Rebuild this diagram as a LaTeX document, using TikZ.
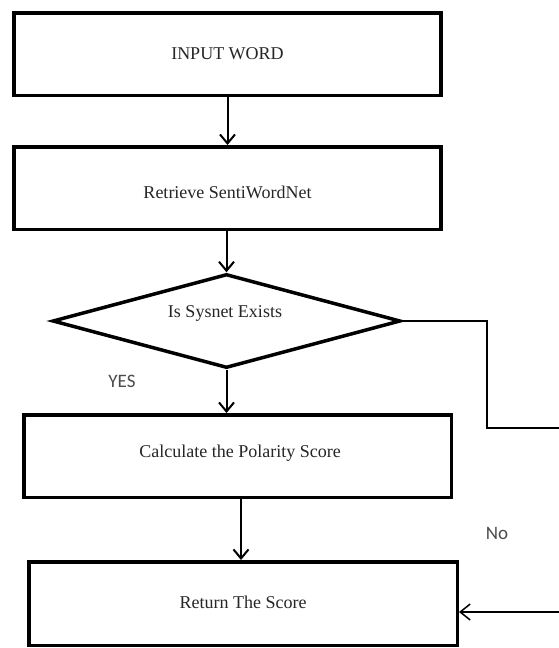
\documentclass[tikz,border=0pt]{standalone}
\usepackage{fontspec}
\setmainfont{Liberation Serif}
\newfontfamily\lblfont{Carlito}
\usetikzlibrary{arrows.meta,shapes.geometric}
\begin{document}
\begin{tikzpicture}[x=1pt,y=-1pt,
  stepbox/.style={draw, line width=3.5pt, minimum height=82.5pt, inner sep=0pt,
    font=\fontsize{18}{20}\selectfont},
  decision/.style={draw, diamond, line width=3.5pt, minimum width=348pt,
    minimum height=94pt, inner sep=0pt},
  boxtext/.style={font=\fontsize{18}{20}\selectfont, text=black!85, inner sep=0pt},
  flow/.style={line width=2pt, -{Straight Barb[length=9pt,width=15pt]}},
  thinflow/.style={line width=1.5pt},
  branchlbl/.style={font=\lblfont\fontsize{19}{21}\selectfont, text=black!70, inner sep=0pt}]
\useasboundingbox (0,0) rectangle (558,648);
\fill[white] (0,0) rectangle (558,648);

\node[stepbox, minimum width=427pt, text=black!85] (b1) at (227.5,54) {INPUT WORD};
\node[stepbox, minimum width=427pt] (b2) at (227.5,188) {};
\node[boxtext] (t2) at (227.5,192) {Retrieve SentiWordNet};
\node[decision] (d) at (226.5,321) {};
\node[boxtext] (dt) at (225,313) {Is Sysnet Exists};
\node[stepbox, minimum width=427.5pt] (b4) at (237.5,456) {};
\node[boxtext] (t4) at (240,453) {Calculate the Polarity Score};
\node[stepbox, minimum width=428.5pt, minimum height=83.5pt] (b5) at (243,603.5) {};
\node[boxtext] (t5) at (243,602) {Return The Score};

\node[branchlbl] (yes) at (122,381) {YES};
\node[branchlbl] (no) at (497,533) {No};

\coordinate (r1) at (487,321);
\coordinate (r2) at (487,428);
\coordinate (rout) at (562,428);
\coordinate (rin) at (562,612);

\draw[flow] (b1.south) -- (b2.north);
\draw[flow] (d.north |- b2.south) -- (d.north);
\draw[flow] (d.south) -- (d.south |- b4.north);
\draw[flow] ([xshift=3.5pt]b4.south) -- ([xshift=3.5pt]b4.south |- b5.north);
\draw[thinflow] (d.east) -- (r1) -- (r2) -- (rout);
\draw[thinflow, -{Straight Barb[length=10pt,width=16pt]}] (rin) -- (rin -| b5.east);
\end{tikzpicture}
\end{document}
